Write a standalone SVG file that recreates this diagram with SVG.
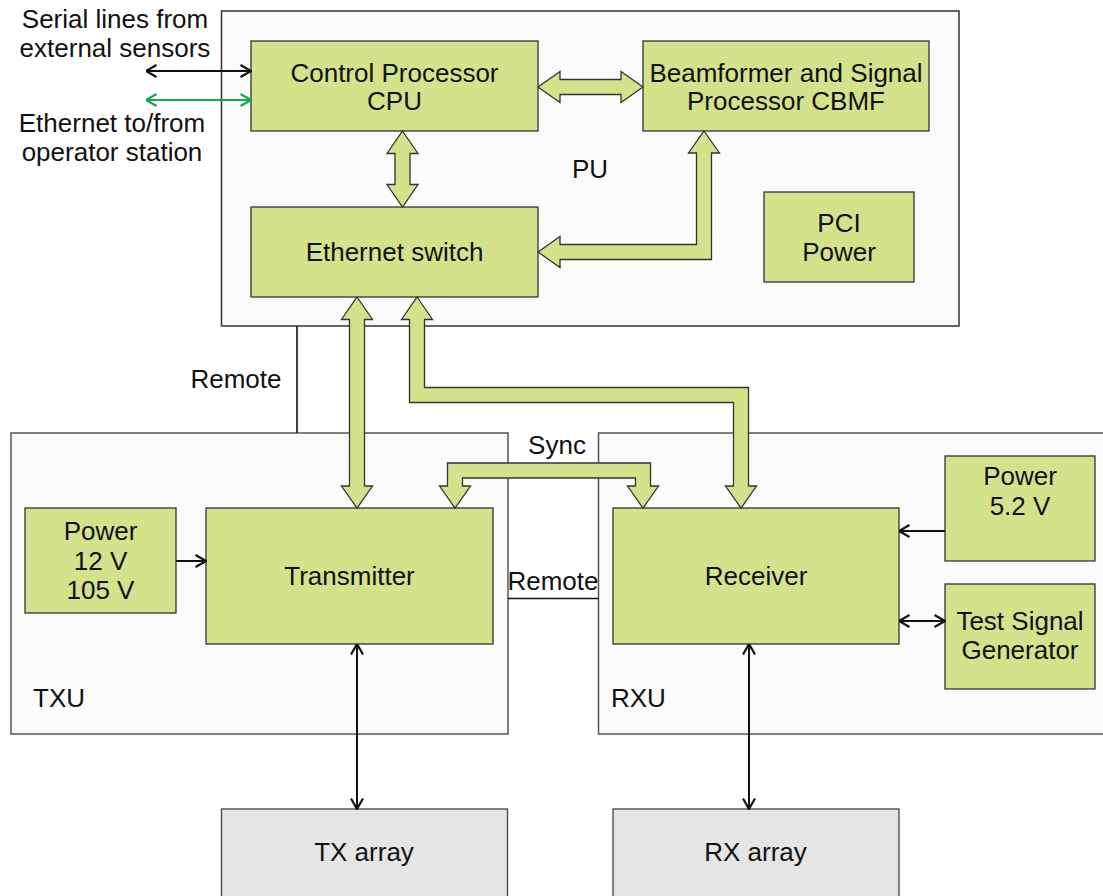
<svg xmlns="http://www.w3.org/2000/svg" width="1103" height="896" viewBox="0 0 1103 896">
<defs>
<style>
text{font-family:"Liberation Sans",Arial,sans-serif;font-size:26px;fill:#111;}
.c{text-anchor:middle;}
.cont{fill:#FBFBFB;stroke:#555;stroke-width:1.5;}
.pu{fill:#FBFBFB;stroke:#333;stroke-width:1.5;}
.blk{fill:#D4E38B;stroke:#333;stroke-width:1.3;}
.arr{fill:#E5E5E5;stroke:#444;stroke-width:1.3;}
.wide{fill:#D4E38B;stroke:#333;stroke-width:1.3;stroke-linejoin:miter;}
.thin{fill:none;stroke:#111;stroke-width:2;}
.green{fill:none;stroke:#14A84B;stroke-width:2;}
.plain{fill:none;stroke:#111;stroke-width:1.6;}
</style>
<marker id="ah" viewBox="0 0 12 14" refX="11.5" refY="7" markerWidth="12" markerHeight="14" markerUnits="userSpaceOnUse" orient="auto-start-reverse">
<path d="M1,1 L11.5,7 L1,13" fill="none" stroke="#111" stroke-width="2.2"/>
</marker>
<marker id="ahg" viewBox="0 0 12 14" refX="11.5" refY="7" markerWidth="12" markerHeight="14" markerUnits="userSpaceOnUse" orient="auto-start-reverse">
<path d="M1,1 L11.5,7 L1,13" fill="none" stroke="#14A84B" stroke-width="2.2"/>
</marker>
</defs>

<g id="PU">
<rect class="pu" x="221.5" y="11" width="737.5" height="315"/>
<text class="c" x="590" y="178">PU</text>
</g>
<g id="TXU">
<rect class="cont" x="11" y="433" width="497" height="301"/>
<text x="33" y="707">TXU</text>
</g>
<g id="RXU">
<rect class="cont" x="598.5" y="433" width="510" height="301"/>
<text x="611" y="707">RXU</text>
</g>

<g id="CPU">
<rect class="blk" x="251" y="41" width="287" height="90"/>
<text class="c" x="394.5" y="82">Control Processor</text>
<text class="c" x="394.5" y="110">CPU</text>
</g>
<g id="CBMF">
<rect class="blk" x="643" y="41" width="286" height="90"/>
<text class="c" x="786" y="82">Beamformer and Signal</text>
<text class="c" x="786" y="110">Processor CBMF</text>
</g>
<g id="EthSwitch">
<rect class="blk" x="251" y="207" width="287" height="90"/>
<text class="c" x="394.5" y="261">Ethernet switch</text>
</g>
<g id="PCIPower">
<rect class="blk" x="764" y="192" width="150" height="90"/>
<text class="c" x="839" y="232">PCI</text>
<text class="c" x="839" y="261">Power</text>
</g>
<g id="Power12">
<rect class="blk" x="25" y="508" width="151" height="105"/>
<text class="c" x="100.5" y="540">Power</text>
<text class="c" x="100.5" y="570">12 V</text>
<text class="c" x="100.5" y="599">105 V</text>
</g>
<g id="Transmitter">
<rect class="blk" x="206" y="508" width="287" height="136"/>
<text class="c" x="349.5" y="585">Transmitter</text>
</g>
<g id="Receiver">
<rect class="blk" x="613" y="508" width="286" height="136"/>
<text class="c" x="756" y="585">Receiver</text>
</g>
<g id="Power52">
<rect class="blk" x="945" y="456" width="150" height="105"/>
<text class="c" x="1020" y="485">Power</text>
<text class="c" x="1020" y="515">5.2 V</text>
</g>
<g id="TSG">
<rect class="blk" x="945" y="584" width="150" height="105"/>
<text class="c" x="1020" y="630">Test Signal</text>
<text class="c" x="1020" y="659">Generator</text>
</g>
<g id="TXarray">
<rect class="arr" x="221.5" y="809" width="286" height="100"/>
<text class="c" x="364" y="861">TX array</text>
</g>
<g id="RXarray">
<rect class="arr" x="613" y="809" width="286" height="100"/>
<text class="c" x="755.5" y="861">RX array</text>
</g>

<g id="labels">
<text class="c" x="115" y="28">Serial lines from</text>
<text class="c" x="115" y="57">external sensors</text>
<text class="c" x="112" y="132">Ethernet to/from</text>
<text class="c" x="112" y="161">operator station</text>
<text class="c" x="236" y="388">Remote</text>
<text class="c" x="557" y="454">Sync</text>
<text class="c" x="553" y="590">Remote</text>
</g>

<g id="connectors">
<line class="plain" x1="297" y1="326" x2="297" y2="433"/>
<line class="plain" x1="508" y1="598.5" x2="598.5" y2="598.5"/>
<line class="thin" x1="146" y1="71" x2="251" y2="71" marker-start="url(#ah)" marker-end="url(#ah)"/>
<line class="green" x1="146" y1="100" x2="251" y2="100" marker-start="url(#ahg)" marker-end="url(#ahg)"/>
<line class="thin" x1="176" y1="561" x2="206" y2="561" marker-end="url(#ah)"/>
<line class="thin" x1="945" y1="531" x2="899" y2="531" marker-end="url(#ah)"/>
<line class="thin" x1="899" y1="621" x2="945" y2="621" marker-start="url(#ah)" marker-end="url(#ah)"/>
<line class="thin" x1="357" y1="644" x2="357" y2="809" marker-start="url(#ah)" marker-end="url(#ah)"/>
<line class="thin" x1="749" y1="644" x2="749" y2="809" marker-start="url(#ah)" marker-end="url(#ah)"/>
<polygon class="wide" points="538,87 560,71.5 560,79.5 621,79.5 621,71.5 643,87 621,102.5 621,94.5 560,94.5 560,102.5"/>
<polygon class="wide" points="402.5,131 418,153.5 410,153.5 410,184.5 418,184.5 402.5,207 387,184.5 395,184.5 395,153.5 387,153.5"/>
<polygon class="wide" points="704,131 719.5,153 711.5,153 711.5,259.5 560,259.5 560,267.5 538,252 560,236.5 560,244.5 696.5,244.5 696.5,153 688.5,153"/>
<polygon class="wide" points="357,297 372.5,319.5 364.5,319.5 364.5,486 372.5,486 357,508 341.5,486 349.5,486 349.5,319.5 341.5,319.5"/>
<polygon class="wide" points="417,297 432.5,319.5 424.5,319.5 424.5,387.5 748.5,387.5 748.5,486 756.5,486 741,508 725.5,486 733.5,486 733.5,402.5 409.5,402.5 409.5,319.5 401.5,319.5"/>
<polygon class="wide" points="447.5,463 650.5,463 650.5,486 658.5,486 643,508 627.5,486 635.5,486 635.5,478 462.5,478 462.5,486 470.5,486 455,508 439.5,486 447.5,486"/>
</g>
</svg>
